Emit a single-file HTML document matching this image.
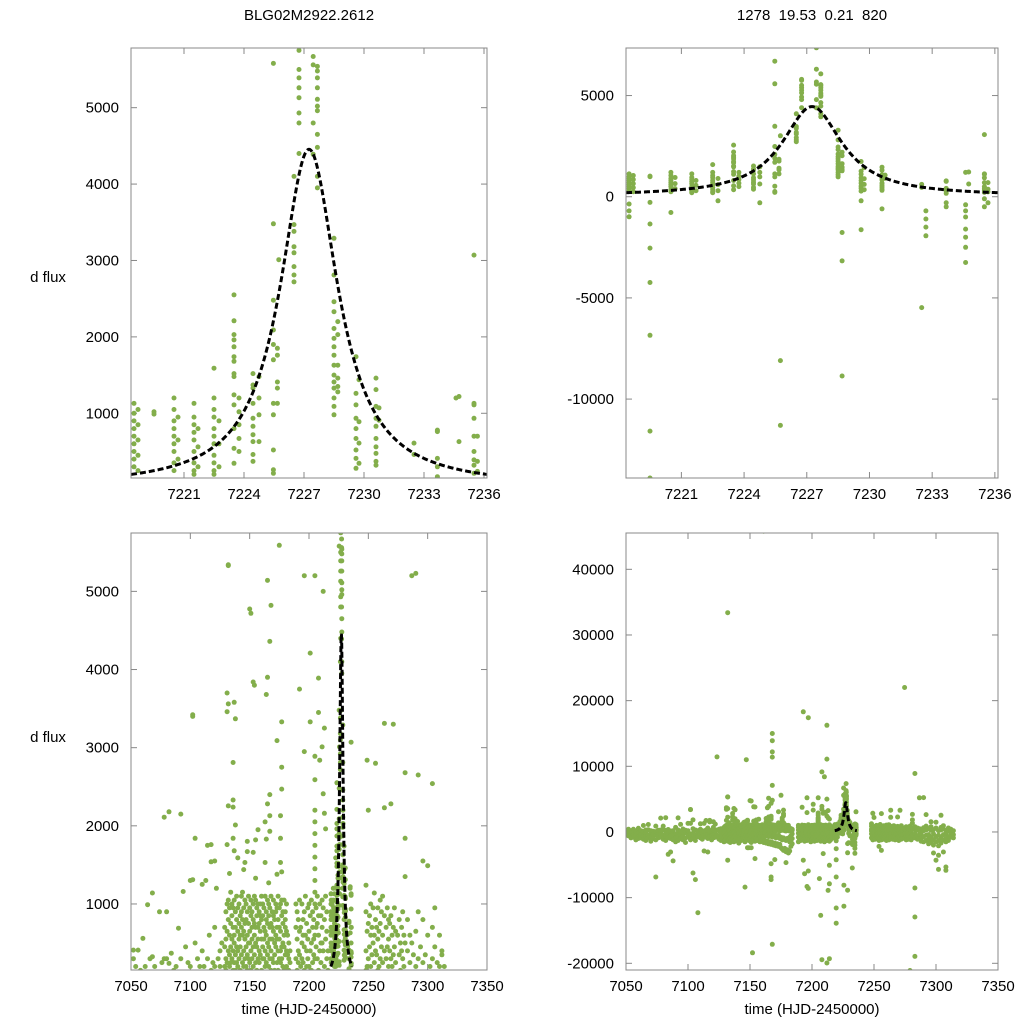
<!DOCTYPE html>
<html><head><meta charset="utf-8"><title>BLG02M2922.2612</title>
<style>
html,body{margin:0;padding:0;background:#fff;width:1024px;height:1024px;overflow:hidden;position:relative;}
svg{display:block;position:absolute;left:0;top:0;font-family:"Liberation Sans",Arial,sans-serif;}
</style></head>
<body>
<svg id="chart" width="1024" height="1024" viewBox="0 0 1024 1024" xmlns="http://www.w3.org/2000/svg">
<rect width="1024" height="1024" fill="#fff"/>
<text x="309" y="20" font-size="15" text-anchor="middle">BLG02M2922.2612</text>
<text x="812" y="20" font-size="15" text-anchor="middle" xml:space="preserve">1278  19.53  0.21  820</text>
<text x="48" y="282" font-size="15" text-anchor="middle">d flux</text>
<text x="48" y="742" font-size="15" text-anchor="middle">d flux</text>
<text x="309" y="1014" font-size="15" text-anchor="middle">time (HJD-2450000)</text>
<text x="812" y="1014" font-size="15" text-anchor="middle">time (HJD-2450000)</text>
<g id="plots"></g>
</svg>
<script>
// ---- model (fit) parameters: t0, peak amplitude, width, baseline, fit window
const modelT0 = 7227.25;
const modelAmp = 4420;
const modelWidth = 1.75;
const modelBase = 35;
const modelWindow = [7218.35, 7236.15];

// ---- tick labels
const topXTicks = [7221, 7224, 7227, 7230, 7233, 7236];
const bottomXTicks = [7050, 7100, 7150, 7200, 7250, 7300, 7350];
const tlYTicks = [1000, 2000, 3000, 4000, 5000];
const trYTicks = [-10000, -5000, 0, 5000];
const blYTicks = [1000, 2000, 3000, 4000, 5000];
const brYTicks = [-20000, -10000, 0, 10000, 20000, 30000, 40000];

// ---- event-window observations (nights and fluxes)
const topNightTimes = [7218.5,7218.7,7219.5,7220.5,7220.7,7221.5,7221.7,7222.5,7222.75,7223.5,7223.75,7224.45,7224.75,7225.47,7225.67,7225.74,7226.5,7226.75,7227.46,7227.67,7228.5,7228.69,7229.6,7229.75,7230.6,7230.75,7232.5,7232.7,7233.67,7234.6,7234.75,7235.5,7235.67];
const topNightFlux = [
[1130,1000,900,800,700,600,500,400,300,-360,-700,-990],
[1050,850,650,450,250],
[1020,990,-280,-1350,-2540,-4240,-6850,-11580,-13900],
[1200,1050,900,800,700,600,500,350,250,-780],
[950,650,400],
[1130,950,850,750,650,500,350,250,200],
[800,560,300],
[1590,1200,1050,950,800,700,600,450,350,250,200],
[900,600,300,-200],
[2550,2210,2030,1960,1870,1740,1680,1520,1480,1240,1110,800,540,345],
[1200,1020,850,670,500],
[1520,1370,1330,1130,935,830,720,630,460,370],
[1480,1200,980,630,-300],
[6700,5580,3480,2480,2090,1900,1700,1130,980,520,260,215],
[1850,1760,1410,1330,1130],
[3010,-8100,-11300],
[4100,3470,3380,3180,3100,2920,2810,2720],
[5800,5750,5500,5390,5260,5130,4930,4800,4400],
[7360,6300,5670,5560,4800,4390],
[6070,5540,5480,5390,5260,5110,5020,4960,4650,4480,4100,3950],
[3290,2810,2460,2330,2110,1980,1870,1760,1630,1500,1410,1330,1200,1090,980],
[2200,2030,1630,1460,1350,1280,-1770,-3170,-8860],
[1740,1260,1110,935,800,670,520,410,280,-200,-1630],
[1440,890,610,345],
[1460,1310,1090,935,830,670,560,475,370,320,-600],
[1070,910],
[610,460,-5480],
[-700,-1100,-1500,-1930],
[780,760,410,300,170,-300,-500],
[1200,-400,-700,-1000,-1600,-2000,-2500,-3250],
[1220,630],
[3070,1130,1110,935,700,500,390,320,215,-100,-500],
[700,370,240,-300]
];

// ---- full-season observations (nights and fluxes), event window comes from above
const seasonNightTimes = [
7052,7054,7056,7058,7060,7062,7064,7066,7068,7070,7072,7074,7076,7078,7080,7082,7084,7086,7088,7090,7092,7094,7096,7098,7100,7102,7104,7106,7108,
7110,7111.5,7113,7114.5,7116,7117.5,7119,7120.5,7122,7123.4,7125,7126.5,
7129,7130,7131,7132,7133,7134,7135,7136,7137,7138,7139,7140,7141,7142,7143,7144,7145,7146,7147,7148,7149,7150,7151,7152,7153,7154,7155,7156,7157,7158,7159,7160,7161,7162,7163,7164,7165,7166,7167,7168,7169,7170,7171,7172,7173,7174,7175,7176,7177,7178,7179,7180,7181,7182,7183,7184,
7189,7190,7191,7192,7193,7194,7195,7196,7197,7198,7199,7200,7201,7202,7203,7204,7205,7206,7207,7208,7209,7210,7211,7212,7213,7214,7215,7216,
7248,7249,7250,7251,7252,7253,7254,7255,7256,7257,7258,7259,7260,7261,7262,7263.5,7265,7266,7267,7268,7269,7270,7271,7272,7273,7274.7,7276,7277,7278,7279,7280,7281,7283,7285,7286.6,7288,7290,7292,7294,7296,7298,7300,7302,7304,7306,7308,7310,7312,7314];
const seasonNightFlux = [
[300,-200,-600,100,410],[-400,-900,200,-100],[410,-300,-800,0],[-200,-1200,150,-500],[560,-100,-700,-1000],[-300,200,-900,-400],[990,-600,100,-1100],[-200,-700,300,-1300],[1140,325,-500,-900],[-100,-800,200,-1400],[-600,100,-1000,-300],[900,-400,-1200,50,-6860],[-300,-900,250,-700],[2110,-200,-800,300],[300,-500,-1100,900],[240,-300,-800,-1300,2180],[370,-200,-900,-3400],[-400,150,-1000,-600,-3050],[-100,-700,200,-1200,-4400],[690,-300,-900,-1500],[2150,-200,300,-800,-1300],[1160,-500,100,-1000],[450,-300,-1200,-700],[-100,250,-900,-1600],[-400,200,-800,1300],[1310,3420,3400,-600,-1200,-300],[1840,-200,-1000,500,-6250],[-500,-1300,300,-800,-7260],[-100,-700,200,-12300],
[400,-300,-900,1250],[-200,-700,200,-1100],[1300,-500,100,-2900],[-300,-800,300,1750],[600,-400,-1000,-3050],[1540,-200,-700,150,1760],[-100,-600,250,-1200],[700,-400,-900,200,1550],[1200,-300,-800,100],[11430,-500,300],[400,-600,-1100,200],[-200,-800,500,-1300],
[200,450,-300,-900,700,-1500],[900,300,-600,550,-1200,150],[3700,3460,650,250,-400,-1000,1000,1760],[400,800,-200,-800,1050,-1400,5340,33400,5330,3560,2255,-4300],[600,200,950,-500,-1100,350,1390],[1150,450,750,-300,-900,250,-1600],[300,850,550,-700,-1300,1000],[700,150,400,-400,-1000,950,2810,2330,2240,1840],[1050,600,250,-200,-800,-1500,500,3580,1680],[350,900,700,-600,-1200,150,3370,2010],[800,450,1100,-300,-1000,250],[200,650,950,-500,-1400,400,1590],[1000,550,300,-200,-900,750,-1700],[450,850,150,-700,-1100,600],[700,1100,350,-400,-1300,900],[250,600,800,-600,-1000,1150],[950,400,650,-300,-1200,200,1440],[550,1050,300,-800,-1500,750,1530,-8400],[800,200,450,-500,-1100,1000,11000],[350,900,600,-200,-900,-2400,150,1800,1670],[1100,500,750,-600,-1300,300,-2400],[650,250,950,-400,-1000,500,4775],[400,850,150,-700,-1600,1050,4720,-2400],[900,550,700,-300,-1200,300,-18400],[200,1000,450,-500,-1100,800,3840,1660],[750,350,600,-800,-1400,1100,3800,-4060],[1050,500,250,-200,-900,700,1820,1330],[450,850,950,-600,-1300,150],[700,300,550,-400,-1000,1000,1950],[250,900,750,-700,-1500,400],[1000,650,350,-300,-1200,850],[550,150,800,-500,-1100,1100],[850,450,1000,-800,-1600,300,45800],[300,700,550,-200,-1300,950],[1100,400,650,-600,-1700,200,2050,1530],[600,900,250,-400,-1400,800,3680,1830],[750,350,1050,-700,-1800,500,3900,5140,2280],[200,850,450,-500,-1500,1000,1270],[950,550,700,-300,-1900,300,4360,2400,2130,1930,-4830,-6860,-7260],[400,1100,150,-800,-1600,750,4820,15000,13900,12200,11400,7100,-17100],[700,300,900,-600,-2000,550],[1050,650,250,-400,-1700,850,-4200],[350,800,500,-900,-2100,150],[900,450,1000,-700,-1800,600],[250,700,550,-500,-2200,950,3090,1380],[800,150,1100,-1000,-1900,400],[550,950,300,-800,-2400,700,5590],[1000,400,650,-1200,-2600,250,2130,1840,1530],[300,850,450,-900,-2800,1050,3330,2750,2470,1410],[750,200,900,-1100,-2500,500],[450,1050,600,-1300,-3000,150,-4670],[900,350,700,-1000,-2700,800],[200,650,1000,-1200,-3200,400],[600,150,350,-800,-2900,-1500],[300,500,-600,-1400,-2200,150],[250,-300,-1000,-1800,400],
[300,700,-200,-800,1000,-1500],[550,150,900,-400,-1100],[800,400,-600,-1300,250],[350,1050,-300,-900,650,3750],[700,200,-500,-1200,18300,-4300],[1000,500,-700,-1400,300,-6350],[250,800,-200,-1000,600],[900,450,-600,-1300,150,5200,-8300,2950],[600,1100,-400,-900,17400,-8600,-5950],[400,750,-300,-1100,200],[950,300,-700,-1500,550],[200,650,-500,-1200,1000],[850,400,-300,-900,4210,3330],[500,1050,-800,-1400,150],[700,250,-400,-1100,900],[350,800,-600,-1300,550],[2200,2050,1900,1750,1600,1450,1300,1150,1000,600,300,-500,-1200,2590,5200,2890],[950,450,-200,-1000,700,-7100],[300,750,-700,-1400,1100,-12700],[600,150,-500,-1200,850,3890,3450,-19450,9150],[1000,400,-300,-900,2840,-3300],[250,850,-800,-1500,500,8400],[700,500,-400,-1100,1050,3010],[400,950,-600,-1300,5000,16250,11100,-19950,2410],[800,200,-200,-1000,3250,2160,-8900],[550,1100,-700,-1400,1960,-19300,-5080,-7900],[300,650,-500,-1200,900],[150,400,-300,-800],
[400,900,-300,-900,1240,150],[650,200,-500,-1200,2840],[300,750,-200,-800,2200],[850,450,-600,-1100],[200,600,-400,-1000,1000],[700,350,-300,-900],[500,950,-700,-1300,-2200],[250,600,-200,-1000,1140],[800,400,-500,-1200,-2800,2800],[350,700,-300,-900],[950,550,-600,-1100,150],[200,650,-400,-800],[750,300,-500,-1300,1050],[450,900,-200,-1000],[600,250,-700,-1200,1100],[3310,850,400,-300,-900,2230],[300,700,-500,-1100],[950,450,-200,-800],[550,200,-600,-1200,800],[400,750,-300,-1000],[850,300,-400,-900,2280],[200,600,-700,-1300],[700,350,-200,-800,3300],[450,950,-500,-1100],[250,650,-400,-1000],[22000,600,-300,-900],[800,350,-600,-1200],[500,150,-200,-800],[700,400,-500,-1100],[300,900,-300,-1000,-21100],[600,200,-700,-1200],[2680,1840,1350,500,-400],[400,800,-300,-900,8900,-8530,-12950,-18950],[250,600,-600,-1100],[5200,500,-400,-1000],[350,-200,-900,-1400],[650,200,-700,-1500,5230],[300,900,-500,-1300,2650],[450,-400,-1100,-1800],[800,250,-800,-1600,1550],[350,-300,-1200,-2000,-3200],[600,1490,-700,-1500,-4300],[200,-500,-1300,-2100,-3550,-5700],[700,300,-900,-1700,2540],[450,950,-400,-1200,-3050],[250,-300,-1000,-1500,-5330,-5840],[600,200,-700,-1300],[350,-200,-800,400],[200,-400,-900]
];

const NS = 'http://www.w3.org/2000/svg';
const root = document.getElementById('plots');
function mk(tag, attrs, parent) {
  const e = document.createElementNS(NS, tag);
  for (const k in attrs) e.setAttribute(k, attrs[k]);
  (parent || root).appendChild(e);
  return e;
}
function modelFlux(t) {
  const d = (t - modelT0) / modelWidth;
  return modelBase + modelAmp / (1 + d * d);
}
function flatten(times, fluxes) {
  const out = [];
  times.forEach((t, i) => fluxes[i].forEach(v => out.push([t, v])));
  return out;
}
const topObs = flatten(topNightTimes, topNightFlux);
const allObs = flatten(seasonNightTimes, seasonNightFlux).concat(topObs);

const panels = [
  {id:'top-left', x0:131, x1:487, y0:48, y1:478, xd:[7218.35, 7236.15], yd:[153, 5781], xt:topXTicks, yt:tlYTicks, obs:topObs},
  {id:'top-right', x0:626, x1:998, y0:48, y1:478, xd:[7218.35, 7236.15], yd:[-13900, 7350], xt:topXTicks, yt:trYTicks, obs:topObs},
  {id:'bottom-left', x0:131, x1:487, y0:533, y1:970, xd:[7050, 7350], yd:[155, 5747], xt:bottomXTicks, yt:blYTicks, obs:allObs},
  {id:'bottom-right', x0:626, x1:998, y0:533, y1:970, xd:[7050, 7350], yd:[-21020, 45530], xt:bottomXTicks, yt:brYTicks, obs:allObs}
];

panels.forEach(p => {
  const sx = t => p.x0 + (t - p.xd[0]) / (p.xd[1] - p.xd[0]) * (p.x1 - p.x0);
  const sy = v => p.y1 - (v - p.yd[0]) / (p.yd[1] - p.yd[0]) * (p.y1 - p.y0);
  const g = mk('g', {});
  
  
  const cp = mk('clipPath', {id: 'clip-' + p.id}, g);
  mk('rect', {x: p.x0, y: p.y0, width: p.x1 - p.x0, height: p.y1 - p.y0}, cp);

  const tg = mk('g', {stroke: '#888', 'stroke-width': 1}, g);
  
  
  p.xt.forEach(t => {
    const x = sx(t);
    mk('line', {x1: x, x2: x, y1: p.y1, y2: p.y1 - 6}, tg);
    mk('line', {x1: x, x2: x, y1: p.y0, y2: p.y0 + 6}, tg);
    const lbl = mk('text', {x: x, y: p.y1 + 21, 'font-size': 15, 'text-anchor': 'middle', fill: '#000'}, g);
    
    
    lbl.textContent = t;
  });
  p.yt.forEach(v => {
    const y = sy(v);
    mk('line', {x1: p.x0, x2: p.x0 + 6, y1: y, y2: y}, tg);
    mk('line', {x1: p.x1, x2: p.x1 - 6, y1: y, y2: y}, tg);
    const lbl = mk('text', {x: p.x0 - 12, y: y + 5, 'font-size': 15, 'text-anchor': 'end', fill: '#000'}, g);
    
    
    lbl.textContent = v;
  });

  const pg = mk('g', {'clip-path': 'url(#clip-' + p.id + ')', fill: '#83ae4b'}, g);
  
  
  p.obs.forEach(o => {
    const cx = sx(o[0]), cy = sy(o[1]);
    if (cx < p.x0 - 2 || cx > p.x1 + 2 || cy < p.y0 - 2 || cy > p.y1 + 2) return;
    const c = mk('circle', {cx: cx.toFixed(1), cy: cy.toFixed(1), r: 2.5}, pg);
    
    
  });

  const pts = [];
  const n = 400;
  for (let i = 0; i <= n; i++) {
    const t = modelWindow[0] + (modelWindow[1] - modelWindow[0]) * i / n;
    pts.push(sx(t).toFixed(2) + ',' + sy(modelFlux(t)).toFixed(2));
  }
  const line = mk('polyline', {points: pts.join(' '), fill: 'none', stroke: '#000', 'stroke-width': 3, 'stroke-dasharray': '6,3', 'clip-path': 'url(#clip-' + p.id + ')'}, g);
  
  

  const fr = mk('rect', {x: p.x0, y: p.y0, width: p.x1 - p.x0, height: p.y1 - p.y0, fill: 'none', stroke: '#888', 'stroke-width': 1}, g);
  
  
});
</script>
</body></html>
